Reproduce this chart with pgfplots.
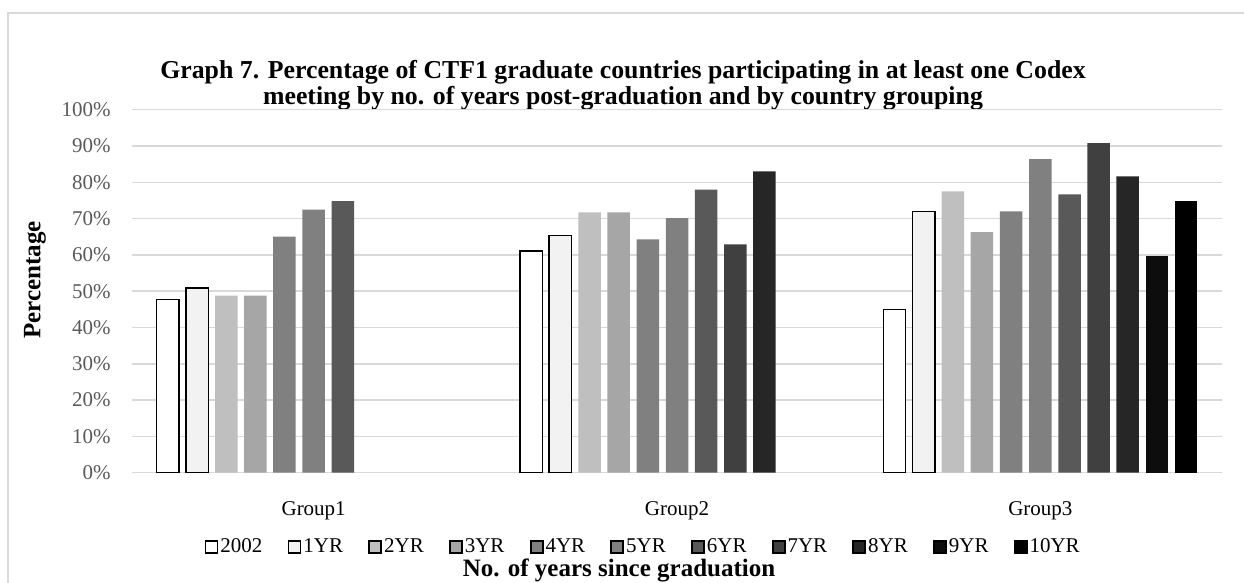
\documentclass[border=0pt]{standalone}
\usepackage{pgfplots}
\pgfplotsset{compat=1.18}
\usepackage{fontspec}
\setmainfont{Liberation Serif}
\definecolor{gridgray}{HTML}{D9D9D9}
\definecolor{ticktext}{HTML}{595959}
\definecolor{cA}{HTML}{FFFFFF}
\definecolor{cB}{HTML}{F2F2F2}
\definecolor{cC}{HTML}{BFBFBF}
\definecolor{cD}{HTML}{A6A6A6}
\definecolor{cE}{HTML}{808080}
\definecolor{cF}{HTML}{808080}
\definecolor{cG}{HTML}{595959}
\definecolor{cH}{HTML}{404040}
\definecolor{cI}{HTML}{262626}
\definecolor{cJ}{HTML}{0D0D0D}
\definecolor{cK}{HTML}{000000}
\begin{document}
\begin{tikzpicture}
\useasboundingbox (0,0) rectangle (622pt,291.5pt);
\draw[gridgray, line width=0.75pt] (4pt,-10pt) rectangle (640pt,285pt);
\node[align=center, font=\bfseries\fontsize{12.9}{11.6}\selectfont] at (311.5pt,249pt)
  {Graph 7. Percentage of CTF1 graduate countries participating in at least one Codex\\
   meeting by no. of years post-graduation and by country grouping};
\node[rotate=90, font=\bfseries\fontsize{12.5}{14}\selectfont] at (17.5pt,151.5pt) {Percentage};
\node[anchor=base, font=\bfseries\fontsize{12.5}{15}\selectfont] at (309.5pt,3.2pt) {No. of years since graduation};
\begin{axis}[
  at={(66pt,55.15pt)}, anchor=south west,
  scale only axis, width=545pt, height=181.5pt,
  xmin=-0.5, xmax=2.5, ymin=0, ymax=100,
  axis x line*=bottom, axis y line*=left,
  axis line style={draw=none},
  tick style={draw=none},
  ymajorgrids, grid style={gridgray, line width=0.75pt},
  ytick={0,10,...,100},
  yticklabels={0\%,10\%,20\%,30\%,40\%,50\%,60\%,70\%,80\%,90\%,100\%},
  yticklabel style={anchor=east, inner sep=0pt, xshift=-10.5pt, text=ticktext, font=\fontsize{10.5}{12}\selectfont},
  xtick={0,1,2},
  xticklabels={Group1,Group2,Group3},
  xticklabel style={anchor=center, yshift=-14.8pt, text=black, font=\fontsize{10.5}{12}\selectfont},
  ybar, bar width=11.25pt,
  legend columns=11,
  legend style={at={(0.469,-0.2047)}, anchor=center, draw=none, fill=none,
    font=\fontsize{10.5}{12}\selectfont,
    nodes={inner sep=1pt},
    /tikz/every even column/.append style={column sep=11.6pt}},
  legend image code/.code={\draw[#1,line width=0.9pt] (0pt,-3pt) rectangle (6pt,3pt);},
]
\addplot[fill=cA, draw=black, line width=0.7pt, bar shift=-72.9pt] coordinates {(0,47.7) (1,61.1) (2,45.0)};
\addplot[fill=cB, draw=black, line width=0.7pt, bar shift=-58.3pt] coordinates {(0,50.9) (1,65.4) (2,72.0)};
\addplot[fill=cC, draw=none, bar shift=-43.7pt] coordinates {(0,48.8) (1,71.7) (2,77.5)};
\addplot[fill=cD, draw=none, bar shift=-29.2pt] coordinates {(0,48.8) (1,71.7) (2,66.3)};
\addplot[fill=cE, draw=none, bar shift=-14.6pt] coordinates {(0,65.0) (1,64.3) (2,72.0)};
\addplot[fill=cF, draw=none, bar shift=0pt] coordinates {(0,72.5) (1,70.1) (2,86.4)};
\addplot[fill=cG, draw=none, bar shift=14.6pt] coordinates {(0,74.8) (1,78.0) (2,76.7)};
\addplot[fill=cH, draw=none, bar shift=29.2pt] coordinates {(1,62.9) (2,90.8)};
\addplot[fill=cI, draw=none, bar shift=43.7pt] coordinates {(1,83.0) (2,81.6)};
\addplot[fill=cJ, draw=none, bar shift=58.3pt] coordinates {(2,59.6)};
\addplot[fill=cK, draw=none, bar shift=72.9pt] coordinates {(2,74.8)};
\legend{2002,1YR,2YR,3YR,4YR,5YR,6YR,7YR,8YR,9YR,10YR}
\end{axis}
\end{tikzpicture}
\end{document}
